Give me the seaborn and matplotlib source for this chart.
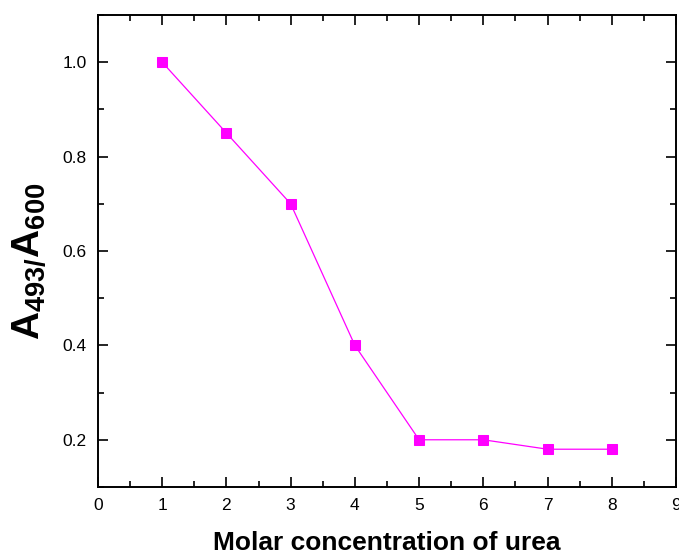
import matplotlib
matplotlib.use("Agg")
import matplotlib.pyplot as plt
import seaborn as sns
import pandas as pd
from matplotlib.ticker import MultipleLocator

# Data
urea_molar = [1, 2, 3, 4, 5, 6, 7, 8]
ratio = [1.00, 0.85, 0.70, 0.40, 0.20, 0.20, 0.18, 0.18]

sns.set_style("ticks")
plt.rcParams["font.family"] = ["Liberation Sans", "DejaVu Sans"]
plt.rcParams["text.color"] = "black"
plt.rcParams["axes.labelcolor"] = "black"
plt.rcParams["mathtext.fontset"] = "custom"
plt.rcParams["mathtext.rm"] = "Liberation Sans:bold"
plt.rcParams["mathtext.bf"] = "Liberation Sans:bold"
plt.rcParams["mathtext.it"] = "Liberation Sans:bold"

df = pd.DataFrame({"urea": urea_molar, "ratio": ratio})

fig = plt.figure(figsize=(6.79, 5.52), dpi=100)
ax = fig.add_axes([0.1443, 0.1178, 0.8513, 0.855])

sns.lineplot(data=df, x="urea", y="ratio", ax=ax, color="#ff00ff", linewidth=0.9,
             marker="s", markersize=7, markeredgecolor="#ff00ff")

ax.set_xlim(0, 9)
ax.set_ylim(0.1, 1.1)
ax.xaxis.set_major_locator(MultipleLocator(1))
ax.xaxis.set_minor_locator(MultipleLocator(0.5))
ax.set_yticks([0.2, 0.4, 0.6, 0.8, 1.0])
ax.yaxis.set_minor_locator(MultipleLocator(0.1))

ax.tick_params(which="both", direction="in", top=True, right=True, width=1.2,
               labelsize=12.5, colors="black")
ax.tick_params(which="major", length=7, pad=8)
ax.tick_params(which="minor", length=4)
for s in ax.spines.values():
    s.set_linewidth(1.4)
    s.set_color("black")

ax.set_xlabel("Molar concentration of urea", fontsize=19, fontweight="bold", labelpad=13)
ax.set_ylabel(r"$\mathrm{A_{493/}A_{600}}$", fontsize=28)
ax.yaxis.set_label_coords(-0.085, 0.478)

fig.savefig("out.png", dpi=100)
